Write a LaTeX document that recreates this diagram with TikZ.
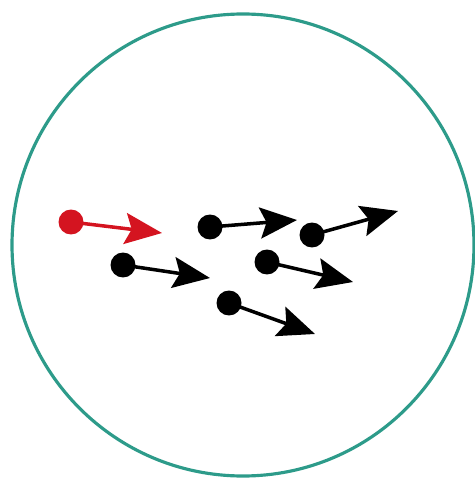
\documentclass[tikz,border=0pt]{standalone}
\usetikzlibrary{arrows.meta}
\definecolor{rimteal}{RGB}{45,155,138}
\definecolor{hotred}{RGB}{212,20,32}

\begin{document}
\begin{tikzpicture}[
    x=0.02cm, y=-0.02cm,
    particle/.style={circle, fill=black, inner sep=0pt, minimum size=0.5cm},
    hot/.style={particle, fill=hotred},
    vec/.style={-{Stealth[length=0.74cm, width=0.62cm, inset=0.13cm]}, line width=2pt, shorten <=-2pt}
]
\useasboundingbox (0,0) rectangle (475,479);
\draw[rimteal, line width=1.8pt] (243,245) circle[radius=231];
% particles
\node (p0) [hot] at (71,222) {};
\node (p1) [particle] at (210,227) {};
\node (p2) [particle] at (312,235) {};
\node (p3) [particle] at (123,265) {};
\node (p4) [particle] at (267,262) {};
\node (p5) [particle] at (229,303) {};
% arrow tips
\coordinate (t0) at (162,233);
\coordinate (t1) at (297,220);
\coordinate (t2) at (398,211);
\coordinate (t3) at (210,278);
\coordinate (t4) at (353,282);
\coordinate (t5) at (315,334);
\draw [vec, hotred] (p0) -- (t0);
\draw [vec] (p1) -- (t1);
\draw [vec] (p2) -- (t2);
\draw [vec] (p3) -- (t3);
\draw [vec] (p4) -- (t4);
\draw [vec] (p5) -- (t5);
\end{tikzpicture}
\end{document}
